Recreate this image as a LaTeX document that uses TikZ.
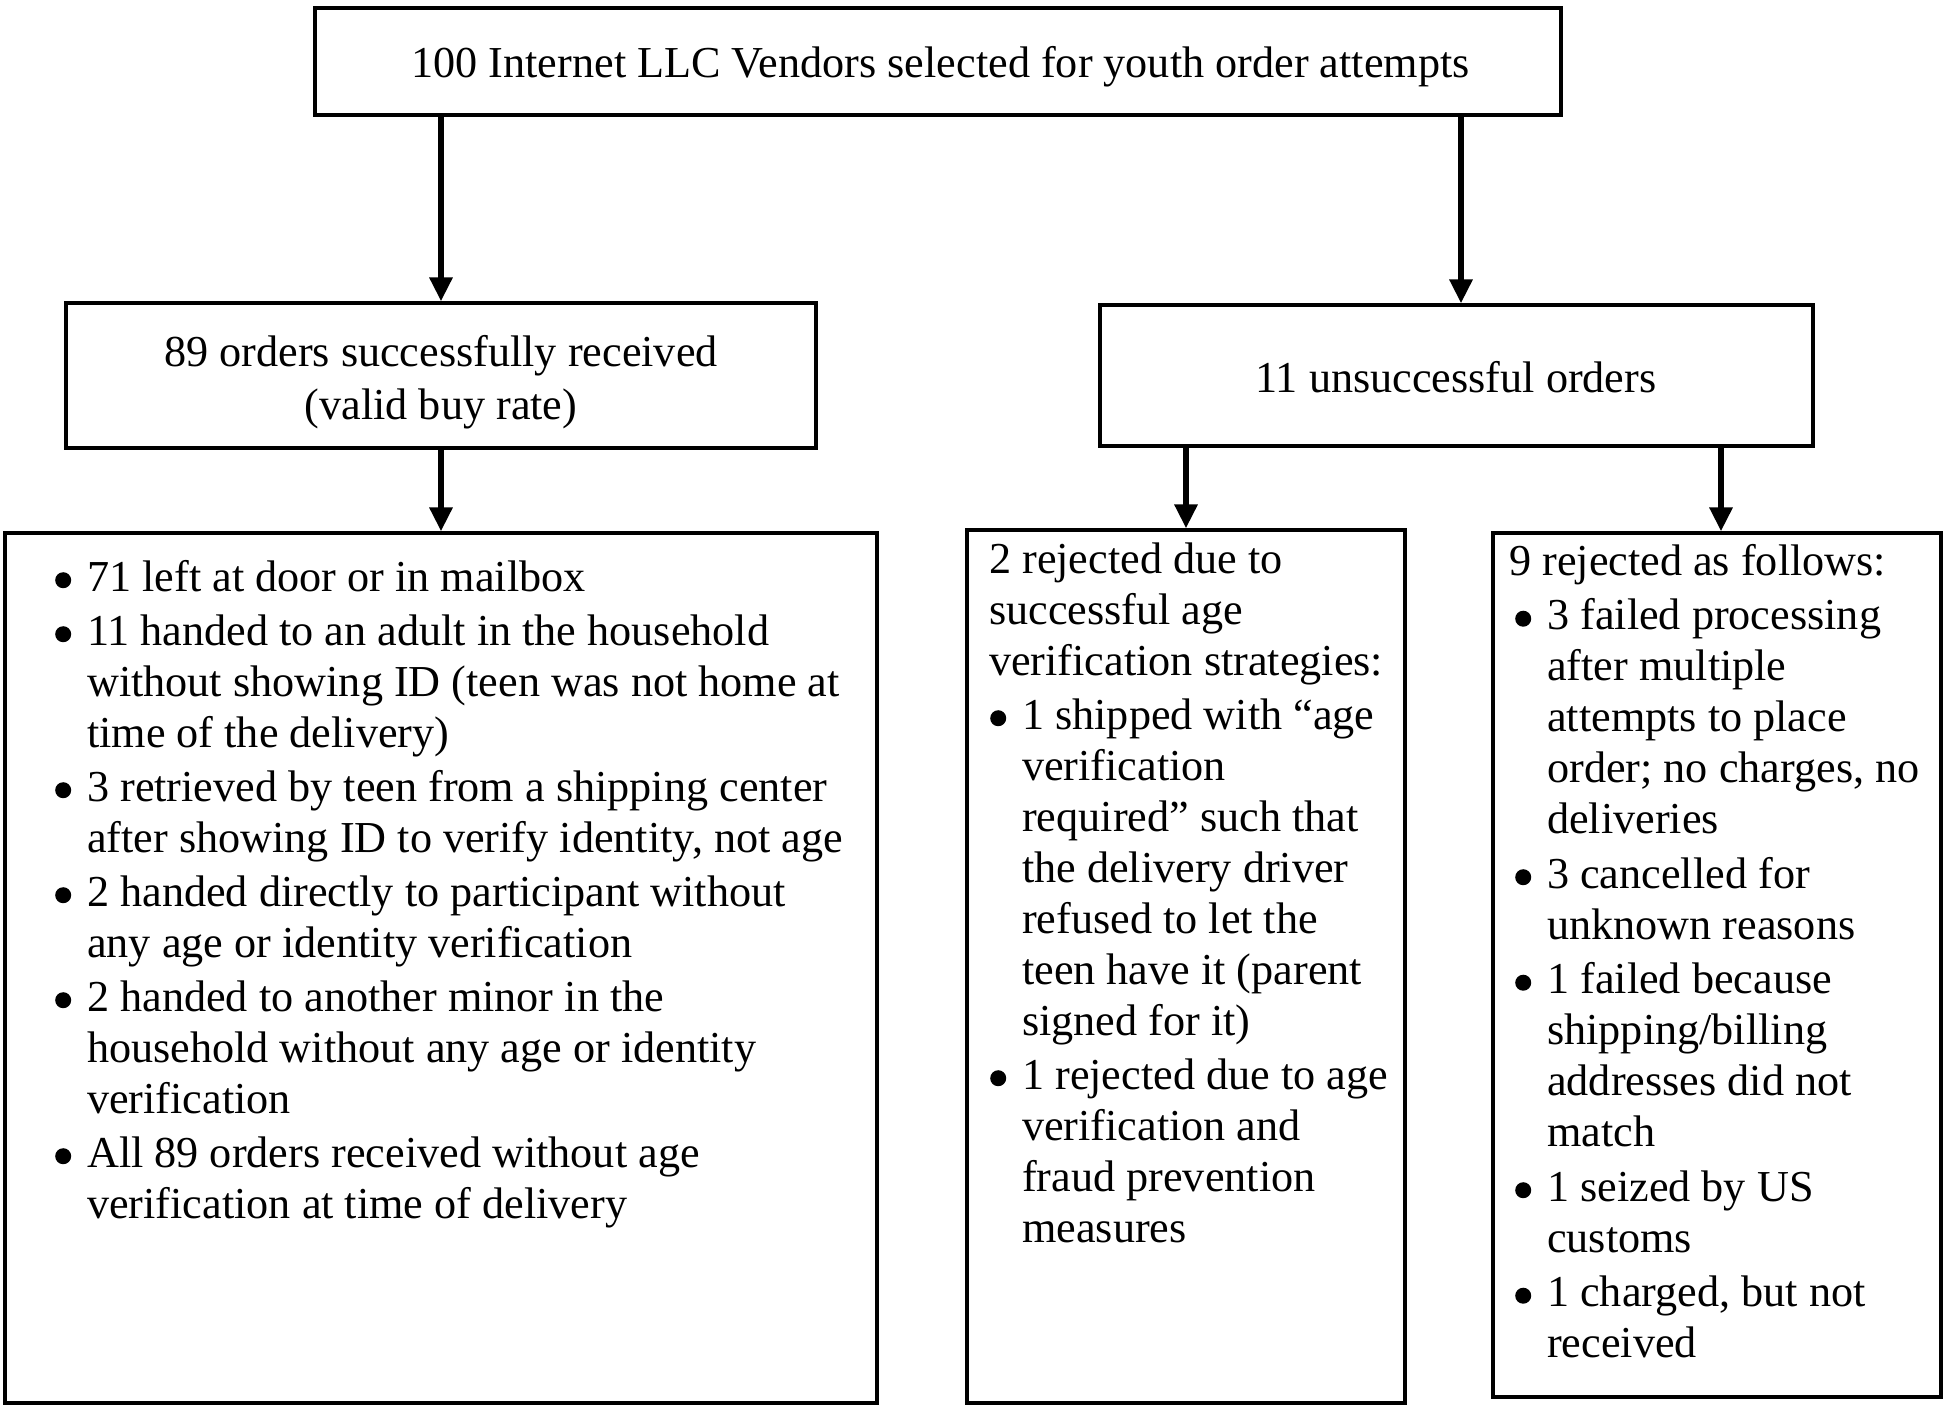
\documentclass[tikz,border=0pt]{standalone}
\usepackage{fontspec}
\setmainfont{Liberation Serif}
\usetikzlibrary{arrows.meta}
\newcommand{\bdot}{\tikz[baseline=0pt]{\fill[black] (0pt,11pt) circle[radius=8pt];}}
\newcommand{\bu}[3]{\makebox[#2][l]{\hspace*{#1}\bdot}#3}
\newcommand{\cu}[2]{\hspace*{#1}#2}
\begin{document}
\begin{tikzpicture}[x=1pt,y=-1pt,
  box/.style={draw, line width=3.2pt, inner sep=0pt, rectangle},
  txt/.style={inner sep=0pt, font=\fontsize{44.2pt}{51pt}\selectfont},
  blk/.style={txt, anchor=north west, align=left},
  arr/.style={line width=6pt, -{Triangle[width=22pt,length=24pt]}}]
\fill[white] (0,0) rectangle (1950,1408);
\useasboundingbox (0,0) rectangle (1950,1408);

% boxes
\node[box, minimum width=1246pt, minimum height=107pt] (top) at (938,61.5) {};
\node[box, minimum width=750pt, minimum height=145pt] (b89) at (441,375.5) {};
\node[box, minimum width=713pt, minimum height=141pt] (b11) at (1456.5,375.5) {};
\node[box, minimum width=872pt, minimum height=870pt] (bl) at (441,968) {};
\node[box, minimum width=438pt, minimum height=873pt] (bm) at (1186,966.5) {};
\node[box, minimum width=448pt, minimum height=864pt] (br) at (1717,965) {};

% texts
\node[txt, anchor=base] (ttop) at (940.5,77) {100 Internet LLC Vendors selected for youth order attempts};
\node[txt, anchor=base] (t89a) at (441,366) {89 orders successfully received};
\node[txt, anchor=base] (t89b) at (441,419) {(valid buy rate)};
\node[txt, anchor=base] (t11) at (1456,392) {11 unsuccessful orders};

\node[blk] (tl) at (55,559) {\rule{0pt}{32pt}\bu{0pt}{32pt}{71 left at door or in mailbox}\\[3pt]
\bu{0pt}{32pt}{11 handed to an adult in the household}\\
\cu{32pt}{without showing ID (teen was not home at}\\
\cu{32pt}{time of the delivery)}\\[3pt]
\bu{0pt}{32pt}{3 retrieved by teen from a shipping center}\\
\cu{32pt}{after showing ID to verify identity, not age}\\[3pt]
\bu{0pt}{32pt}{2 handed directly to participant without}\\
\cu{32pt}{any age or identity verification}\\[3pt]
\bu{0pt}{32pt}{2 handed to another minor in the}\\
\cu{32pt}{household without any age or identity}\\
\cu{32pt}{verification}\\[3pt]
\bu{0pt}{32pt}{All 89 orders received without age}\\
\cu{32pt}{verification at time of delivery}};

\node[blk] (tm) at (989,541) {\rule{0pt}{32pt}2 rejected due to\\
successful age\\
verification strategies:\\[3pt]
\bu{1pt}{33pt}{1 shipped with “age}\\
\cu{33pt}{verification}\\
\cu{33pt}{required” such that}\\
\cu{33pt}{the delivery driver}\\
\cu{33pt}{refused to let the}\\
\cu{33pt}{teen have it (parent}\\
\cu{33pt}{signed for it)}\\[3pt]
\bu{1pt}{33pt}{1 rejected due to age}\\
\cu{33pt}{verification and}\\
\cu{33pt}{fraud prevention}\\
\cu{33pt}{measures}};

\node[blk] (tr) at (1509,543) {\rule{0pt}{32pt}9 rejected as follows:\\[3.5pt]
\bu{6pt}{38pt}{3 failed processing}\\
\cu{38pt}{after multiple}\\
\cu{38pt}{attempts to place}\\
\cu{38pt}{order; no charges, no}\\
\cu{38pt}{deliveries}\\[3.5pt]
\bu{6pt}{38pt}{3 cancelled for}\\
\cu{38pt}{unknown reasons}\\[3.5pt]
\bu{6pt}{38pt}{1 failed because}\\
\cu{38pt}{shipping/billing}\\
\cu{38pt}{addresses did not}\\
\cu{38pt}{match}\\[3.5pt]
\bu{6pt}{38pt}{1 seized by US}\\
\cu{38pt}{customs}\\[3.5pt]
\bu{6pt}{38pt}{1 charged, but not}\\
\cu{38pt}{received}};

% connectors
\draw[arr] (top.south -| b89.north) -- (b89.north);
\draw[arr] ([xshift=4.5pt]b11.north |- top.south) -- ([xshift=4.5pt]b11.north);
\draw[arr] (b89.south) -- (b89.south |- bl.north);
\draw[arr] (bm.north |- b11.south) -- (bm.north);
\draw[arr] ([xshift=4pt]br.north |- b11.south) -- ([xshift=4pt]br.north);
\end{tikzpicture}
\end{document}
